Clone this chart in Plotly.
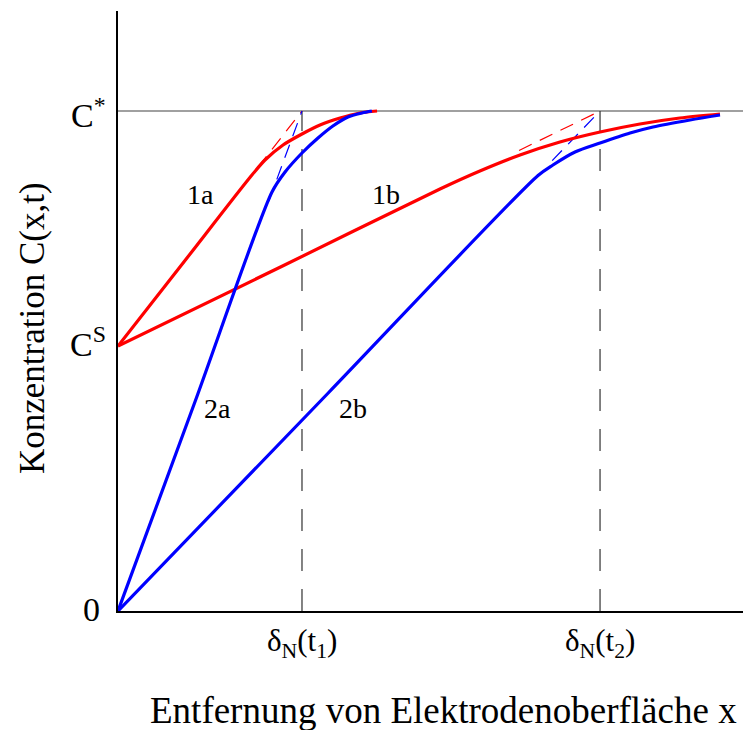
import plotly.graph_objects as go

# Normalised concentration profiles: x in units of delta_N(t1), C in units of C*
C_STAR = 1.0
C_S = 0.53
DELTA_1 = 1.0
DELTA_2 = 2.62
X_MAX = 3.397
Y_MAX = 1.2

# Curve 1a (surface concentration C^S, short time t1)
x_1a = [0.0, 0.36, 0.717, 0.799, 0.897, 1.0, 1.098, 1.207, 1.315, 1.408]
c_1a = [0.53, 0.699, 0.867, 0.902, 0.932, 0.954, 0.972, 0.986, 0.996, 1.0]

# Curve 2a (surface concentration 0, short time t1)
x_2a = [0.0, 0.42, 0.837, 0.908, 1.0, 1.087, 1.168, 1.25, 1.326, 1.380]
c_2a = [0.0, 0.42, 0.838, 0.878, 0.916, 0.946, 0.970, 0.988, 0.996, 1.0]

# Curve 1b (surface concentration C^S, long time t2)
x_1b = [0.0, 0.9, 1.75, 1.967, 2.185, 2.402, 2.62, 2.837, 3.054, 3.272]
c_1b = [0.53, 0.691, 0.844, 0.880, 0.912, 0.938, 0.958, 0.974, 0.986, 0.994]

# Curve 2b (surface concentration 0, long time t2)
x_2b = [0.0, 1.14, 2.283, 2.364, 2.484, 2.62, 2.783, 2.908, 3.109, 3.272]
c_2b = [0.0, 0.435, 0.871, 0.892, 0.918, 0.936, 0.956, 0.968, 0.982, 0.992]

# Tangent (Nernst) lines reaching C* at delta_N
tan_1a_x = [0.76, DELTA_1]
tan_1a_y = [C_S + (C_STAR - C_S) * x / DELTA_1 for x in tan_1a_x]
tan_2a_x = [0.82, DELTA_1]
tan_2a_y = [C_STAR * x / DELTA_1 for x in tan_2a_x]
tan_1b_x = [2.18, DELTA_2]
tan_1b_y = [C_S + (C_STAR - C_S) * x / DELTA_2 for x in tan_1b_x]
tan_2b_x = [2.36, DELTA_2]
tan_2b_y = [C_STAR * x / DELTA_2 for x in tan_2b_x]

RED = "#FF0000"
BLUE = "#0000FF"
FONT = "Liberation Serif"

fig = go.Figure()

# C* reference line
fig.add_trace(go.Scatter(x=[0, X_MAX], y=[C_STAR, C_STAR], mode="lines",
                         line=dict(color="#808080", width=1.5), hoverinfo="skip"))
# delta_N markers
for d in (DELTA_1, DELTA_2):
    fig.add_trace(go.Scatter(x=[d, d], y=[0, C_STAR], mode="lines",
                             line=dict(color="#333333", width=1.2, dash="22px,18px"),
                             hoverinfo="skip"))

# tangents
for tx, ty, col in ((tan_1a_x, tan_1a_y, RED), (tan_2a_x, tan_2a_y, BLUE),
                    (tan_1b_x, tan_1b_y, RED), (tan_2b_x, tan_2b_y, BLUE)):
    fig.add_trace(go.Scatter(x=tx, y=ty, mode="lines",
                             line=dict(color=col, width=1.2, dash="14px,9px"),
                             hoverinfo="skip"))

# profiles
for xs, ys, col in ((x_1b, c_1b, RED), (x_2b, c_2b, BLUE),
                    (x_1a, c_1a, RED), (x_2a, c_2a, BLUE)):
    fig.add_trace(go.Scatter(x=xs, y=ys, mode="lines",
                             line=dict(color=col, width=3.2, shape="spline", smoothing=0.8),
                             hoverinfo="skip"))

# plot area: 118..743 px wide, 11..611 px tall
PLOT_L, PLOT_W, PLOT_B, PLOT_H = 118, 625, 611, 600


def px_x(p):
    return (p - PLOT_L) / PLOT_W


def px_y(p):
    return (PLOT_B - p) / PLOT_H


annotations = [
    # y-axis value labels
    dict(x=px_x(108), y=px_y(113), text="C<sup>*</sup>", xanchor="right",
         font=dict(size=34)),
    dict(x=px_x(108), y=px_y(342), text="C<sup>S</sup>", xanchor="right",
         font=dict(size=34)),
    dict(x=px_x(102), y=px_y(609), text="0", xanchor="right",
         font=dict(size=34)),
    # x-axis markers
    dict(x=px_x(302), y=px_y(643), text="δ<sub>N</sub>(t<sub>1</sub>)",
         font=dict(size=31)),
    dict(x=px_x(600), y=px_y(643), text="δ<sub>N</sub>(t<sub>2</sub>)",
         font=dict(size=31)),
    # curve labels
    dict(x=px_x(200), y=px_y(194), text="1a", font=dict(size=28)),
    dict(x=px_x(386), y=px_y(194), text="1b", font=dict(size=28)),
    dict(x=px_x(217), y=px_y(408), text="2a", font=dict(size=28)),
    dict(x=px_x(353), y=px_y(408), text="2b", font=dict(size=28)),
    # axis titles
    dict(x=px_x(32), y=px_y(328), text="Konzentration C(x,t)", textangle=-90,
         font=dict(size=35)),
    dict(x=px_x(148), y=px_y(710), text="Entfernung von Elektrodenoberfläche x",
         xanchor="left", font=dict(size=37)),
]
for a in annotations:
    a.setdefault("xanchor", "center")
    a.setdefault("yanchor", "middle")
    a.update(xref="paper", yref="paper", showarrow=False)
    a["font"].update(family=FONT, color="black")

fig.update_layout(
    width=743, height=730,
    margin=dict(l=PLOT_L, r=0, t=11, b=119),
    paper_bgcolor="white", plot_bgcolor="white",
    showlegend=False,
    annotations=annotations,
    xaxis=dict(range=[0, X_MAX], showgrid=False, zeroline=False, showticklabels=False,
               ticks="", showline=True, linecolor="black", linewidth=2),
    yaxis=dict(range=[0, Y_MAX], showgrid=False, zeroline=False, showticklabels=False,
               ticks="", showline=True, linecolor="black", linewidth=2),
)

fig.write_html("out.html")
